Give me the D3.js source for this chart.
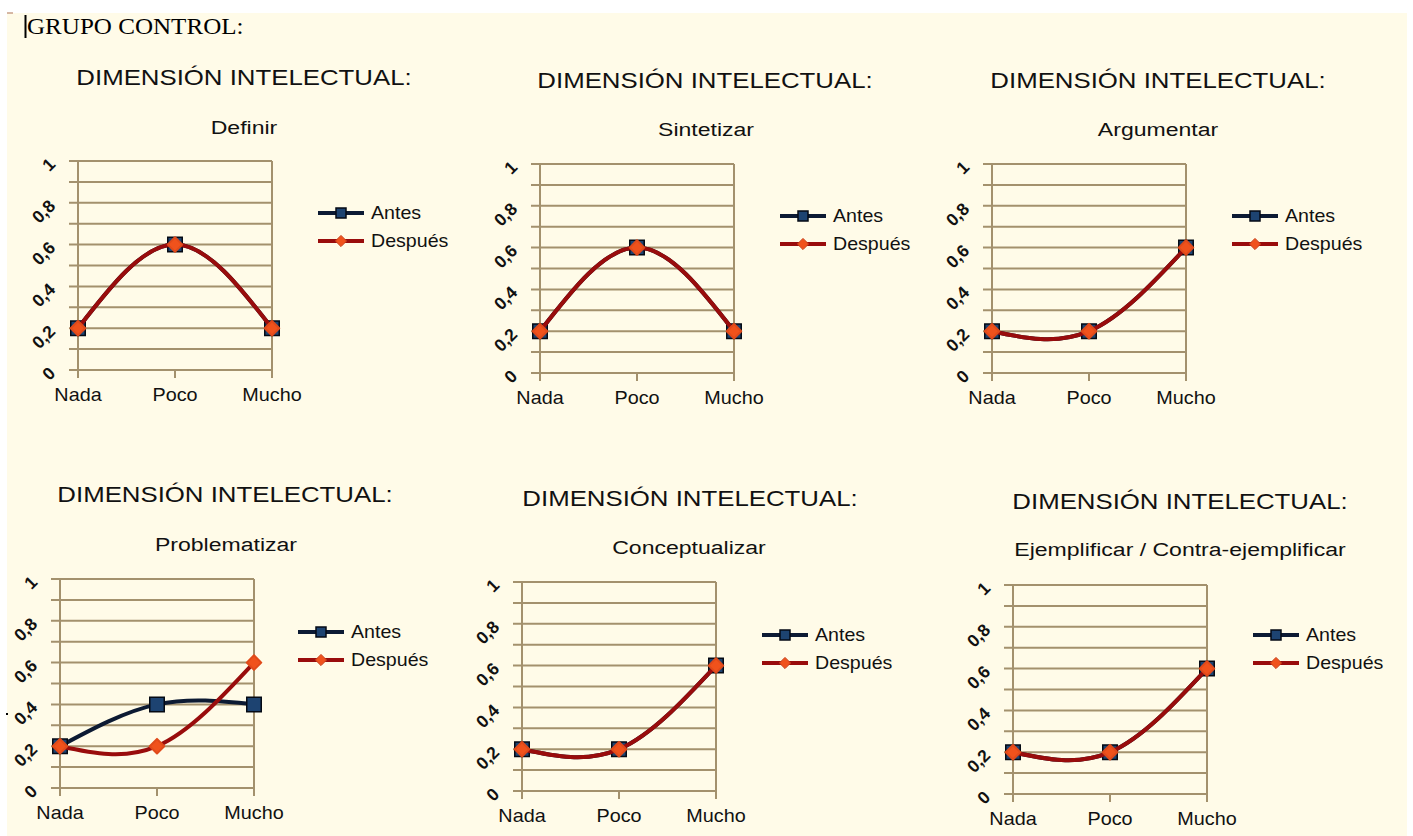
<!DOCTYPE html>
<html>
<head>
<meta charset="utf-8">
<script src="https://cdn.jsdelivr.net/npm/d3@7"></script>
<style>
  html, body { margin: 0; padding: 0; background: #ffffff; }
  svg { display: block; }
</style>
</head>
<body>
<svg id="chart" width="1413" height="836"></svg>
<script>
// Category axis and value ticks shared by every panel
const categories = ["Nada", "Poco", "Mucho"];
const yTickValues = [0, 0.1, 0.2, 0.3, 0.4, 0.5, 0.6, 0.7, 0.8, 0.9, 1];
const yTickLabels = ["0", "", "0,2", "", "0,4", "", "0,6", "", "0,8", "", "1"];
const seriesNames = ["Antes", "Después"];

const heading = "GRUPO CONTROL:";
const dimensionTitle = "DIMENSIÓN INTELECTUAL:";
const subtitles = [
  "Definir",
  "Sintetizar",
  "Argumentar",
  "Problematizar",
  "Conceptualizar",
  "Ejemplificar / Contra-ejemplificar"
];

// Proportions per category, before and after
const antes = [
  [0.2, 0.6, 0.2],
  [0.2, 0.6, 0.2],
  [0.2, 0.2, 0.6],
  [0.2, 0.4, 0.4],
  [0.2, 0.2, 0.6],
  [0.2, 0.2, 0.6]
];
const despues = [
  [0.2, 0.6, 0.2],
  [0.2, 0.6, 0.2],
  [0.2, 0.2, 0.6],
  [0.2, 0.2, 0.6],
  [0.2, 0.2, 0.6],
  [0.2, 0.2, 0.6]
];

// Panel placement on the page
const layout = [
  { left: 78,   top: 161, bottom: 370, titleX: 244,  titleY: 85,  subX: 244,  subY: 134, legX: 318,  legY: 213 },
  { left: 540,  top: 164, bottom: 373, titleX: 705,  titleY: 88,  subX: 706,  subY: 136, legX: 780,  legY: 216 },
  { left: 992,  top: 164, bottom: 373, titleX: 1158, titleY: 88,  subX: 1158, subY: 136, legX: 1232, legY: 216 },
  { left: 60,   top: 579, bottom: 788, titleX: 225,  titleY: 502, subX: 226,  subY: 551, legX: 298,  legY: 632 },
  { left: 522,  top: 582, bottom: 791, titleX: 690,  titleY: 506, subX: 689,  subY: 554, legX: 762,  legY: 635 },
  { left: 1013, top: 585, bottom: 794, titleX: 1180, titleY: 509, subX: 1180, subY: 556, legX: 1253, legY: 635 }
];
const plotWidth = 194;

const colors = {
  page: "#fffbe8",
  grid: "#a3916d",
  text: "#111111",
  antesLine: "#0c1a33",
  antesFill: "#1d4371",
  despuesLine: "#990c0c",
  despuesFill: "#f0521c"
};

const svg = d3.select("#chart");
const sans = "'Liberation Sans', Arial, sans-serif";

// text drawn slightly wide, scaled about its anchor point
function wideText(parent, x, y, str, size, sx, anchor, family) {
  return parent.append("text")
    .attr("transform", `translate(${x},${y}) scale(${sx},1)`)
    .attr("text-anchor", anchor || "middle")
    .attr("font-family", family || sans)
    .attr("font-size", size)
    .attr("fill", colors.text)
    .text(str);
}

// Page background
svg.append("rect").attr("x", 7).attr("y", 13).attr("width", 1400).attr("height", 823)
  .attr("fill", colors.page);
svg.append("line").attr("x1", 7).attr("x2", 13).attr("y1", 13).attr("y2", 13)
  .attr("stroke", "#c9a08a").attr("stroke-width", 1.5);
// text cursor before the heading
svg.append("line").attr("x1", 25.5).attr("x2", 25.5).attr("y1", 15).attr("y2", 38)
  .attr("stroke", "#000").attr("stroke-width", 2);
svg.append("rect").attr("x", 6).attr("y", 713).attr("width", 2).attr("height", 2).attr("fill", "#000");

wideText(svg, 27, 34, heading, 23, 1.09, "start", "'Liberation Serif', 'Times New Roman', serif")
  .attr("fill", "#000");

const diamond = d3.symbol().type(d3.symbolDiamond2);
const square = d3.symbol().type(d3.symbolSquare);

layout.forEach((L, i) => {
  const g = svg.append("g");
  const x = d3.scalePoint().domain(categories).range([L.left, L.left + plotWidth]);
  const y = d3.scaleLinear().domain([0, 1]).range([L.bottom, L.top]);

  // titles
  wideText(g, L.titleX, L.titleY, dimensionTitle, 21.5, 1.2);
  wideText(g, L.subX, L.subY, subtitles[i], 18, 1.28);

  // horizontal grid lines with ticks running past the axis
  g.append("g").selectAll("line").data(yTickValues).join("line")
    .attr("x1", L.left - 9).attr("x2", L.left + plotWidth)
    .attr("y1", d => y(d)).attr("y2", d => y(d))
    .attr("stroke", colors.grid).attr("stroke-width", 2);

  // left axis and right border of the plot wall
  g.append("line").attr("x1", L.left).attr("x2", L.left)
    .attr("y1", L.top).attr("y2", L.bottom + 8)
    .attr("stroke", colors.grid).attr("stroke-width", 2);
  g.append("line").attr("x1", L.left + plotWidth).attr("x2", L.left + plotWidth)
    .attr("y1", L.top).attr("y2", L.bottom + 8)
    .attr("stroke", colors.grid).attr("stroke-width", 2);
  g.append("line").attr("x1", x("Poco")).attr("x2", x("Poco"))
    .attr("y1", L.bottom).attr("y2", L.bottom + 8)
    .attr("stroke", colors.grid).attr("stroke-width", 2);

  // slanted value labels
  g.append("g").selectAll("text").data(yTickValues.filter((d, k) => yTickLabels[k] !== ""))
    .join("text")
    .attr("transform", d => `translate(${L.left - 26},${y(d)}) rotate(-45)`)
    .attr("text-anchor", "end").attr("dy", "0.35em")
    .attr("font-family", sans).attr("font-size", 17.5).attr("font-weight", "bold")
    .attr("fill", colors.text)
    .text(d => yTickLabels[yTickValues.indexOf(d)]);

  // category labels
  categories.forEach(c => wideText(g, x(c), L.bottom + 31, c, 18, 1.1));

  const line = d3.line().x((d, k) => x(categories[k])).y(d => y(d)).curve(d3.curveNatural);

  // Antes series
  g.append("path").attr("d", line(antes[i])).attr("fill", "none")
    .attr("stroke", colors.antesLine).attr("stroke-width", 4);
  g.append("g").selectAll("path").data(antes[i]).join("path")
    .attr("d", square.size(210)())
    .attr("transform", (d, k) => `translate(${x(categories[k])},${y(d)})`)
    .attr("fill", colors.antesFill).attr("stroke", "#050a14").attr("stroke-width", 1.5);

  // Después series
  g.append("path").attr("d", line(despues[i])).attr("fill", "none")
    .attr("stroke", colors.despuesLine).attr("stroke-width", 4);
  g.append("g").selectAll("path").data(despues[i]).join("path")
    .attr("d", diamond.size(135)())
    .attr("transform", (d, k) => `translate(${x(categories[k])},${y(d)})`)
    .attr("fill", colors.despuesFill).attr("stroke", "#e04a1a").attr("stroke-width", 2)
    .attr("stroke-linejoin", "round");

  // legend
  const leg = g.append("g").attr("transform", `translate(${L.legX},${L.legY})`);
  seriesNames.forEach((name, k) => {
    const row = leg.append("g").attr("transform", `translate(0,${k * 28})`);
    row.append("line").attr("x1", 0).attr("x2", 46).attr("y1", 0).attr("y2", 0)
      .attr("stroke", k === 0 ? colors.antesLine : colors.despuesLine).attr("stroke-width", 4);
    if (k === 0) {
      row.append("path").attr("d", square.size(100)()).attr("transform", "translate(23,0)")
        .attr("fill", colors.antesFill).attr("stroke", "#050a14").attr("stroke-width", 1.5);
    } else {
      row.append("path").attr("d", diamond.size(80)()).attr("transform", "translate(23,0)")
        .attr("fill", colors.despuesFill).attr("stroke", "#c8401a").attr("stroke-width", 1);
    }
    wideText(row, 53, 0, name, 18, 1.09, "start").attr("dy", "0.35em");
  });
});
</script>
</body>
</html>
